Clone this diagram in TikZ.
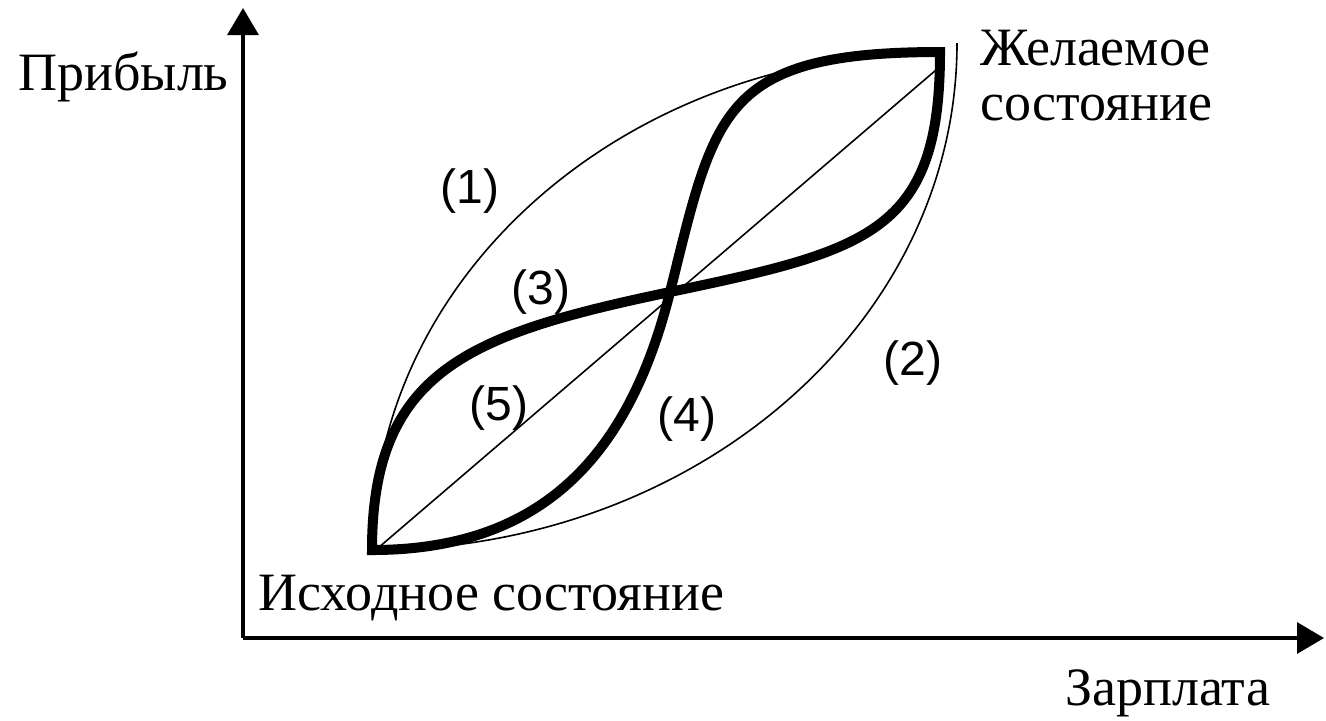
\documentclass[tikz,border=0pt]{standalone}
\usepackage{fontspec}
\setmainfont{Liberation Serif}
\newfontfamily\labfont{Liberation Sans}
\usetikzlibrary{arrows.meta}
\tikzset{
  axis/.style={line width=1.7pt, -{Triangle[length=13.5pt,width=15.5pt]}},
  thinpath/.style={line width=0.8pt},
  thickpath/.style={line width=5pt, line join=miter},
  axislabel/.style={font=\fontsize{27}{30}\selectfont, inner sep=0pt, anchor=base west},
  curvelabel/.style={font=\labfont\fontsize{24}{28}\selectfont, inner sep=0pt}
}
\begin{document}
\begin{tikzpicture}[x=0.5pt,y=-0.5pt]
\useasboundingbox (0,0) rectangle (1326,720);
% key points
\coordinate (O) at (243,638);
\coordinate (Ytop) at (243,8);
\coordinate (Xend) at (1324,638);
\coordinate (S) at (372,550);
\coordinate (E) at (940,52);
\coordinate (M) at (670,292);
\coordinate (T2) at (957,43);
\coordinate (D1) at (378,548);
\coordinate (D2) at (936,70);
% axes
\draw[axis] (O) -- (Ytop);
\draw[axis] (O) -- (Xend);
% curve (1)
\draw[thinpath] (S) .. controls (372,275) and (626,52) .. (E);
% curve (2)
\draw[thinpath] (S) .. controls (695,550) and (957,324) .. (T2);
% line (5)
\draw[thinpath] (D1) -- (D2);
% curves (3) and (4)
\draw[thickpath] (S) .. controls (372,370) and (470,334) .. (M)
  .. controls (870,250) and (940,232) .. (E)
  .. controls (720,52) and (715,112) .. (M)
  .. controls (630,452) and (545,550) .. cycle;
% texts
\node[axislabel] (py) at (18,90) {Прибыль};
\node[axislabel] (px) at (1065,705) {Зарплата};
\node[axislabel] (ps) at (258,610) {Исходное состояние};
\node[axislabel] (pe1) at (980,65) {Желаемое};
\node[axislabel] (pe2) at (980,120) {состояние};
\node[curvelabel] (l1) at (470,191) {(1)};
\node[curvelabel] (l2) at (913,363) {(2)};
\node[curvelabel] (l3) at (541,292) {(3)};
\node[curvelabel] (l4) at (687,419) {(4)};
\node[curvelabel] (l5) at (499,408) {(5)};
\end{tikzpicture}
\end{document}
